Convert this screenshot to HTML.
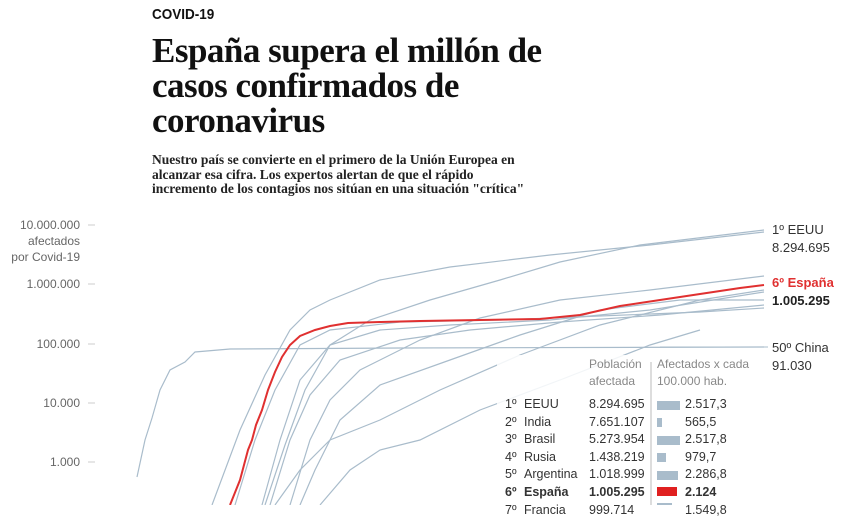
<!DOCTYPE html>
<html><head><meta charset="utf-8"><style>
body{margin:0;width:868px;height:505px;overflow:hidden;background:#fff;position:relative;font-family:"Liberation Sans",sans-serif}
.a{position:absolute;white-space:nowrap}
.ser{font-family:"Liberation Serif",serif}
.t{font-size:35px;font-weight:bold;color:#111;letter-spacing:-0.5px;line-height:35px}
.s{font-size:13.5px;font-weight:bold;color:#222;line-height:14.5px}
.ax{font-size:12px;color:#666;text-align:right;width:80px;left:0}
.tb{font-size:12.5px;color:#333}
</style></head><body>
<div class="a" style="left:152px;top:6px;font-size:15px;font-weight:bold;color:#111;transform:scaleX(0.9);transform-origin:left">COVID-19</div>
<div class="a ser t" style="left:152px;top:33px">España supera el millón de<br>casos confirmados de<br>coronavirus</div>
<div class="a ser s" style="left:152px;top:153px">Nuestro país se convierte en el primero de la Unión Europea en<br>alcanzar esa cifra. Los expertos alertan de que el rápido<br>incremento de los contagios nos sitúan en una situación "crítica"</div>
<svg class="a" style="left:0;top:0" width="868" height="505">
<g stroke="#ccc" stroke-width="1"><line x1="88" x2="95" y1="225" y2="225"/><line x1="88" x2="95" y1="284" y2="284"/><line x1="88" x2="95" y1="344" y2="344"/><line x1="88" x2="95" y1="403" y2="403"/><line x1="88" x2="95" y1="462" y2="462"/></g>
<g fill="none" stroke="#a9bccb" stroke-width="1.2">
<polyline points="137,477 145,440 152,418 160,390 170,370 185,362 195,352 230,349 400,348 764,347"/>
<polyline points="212,505 240,430 265,375 290,330 310,310 330,300 380,280 450,267 550,255 650,245 764,232"/>
<polyline points="262,505 280,440 300,380 330,345 370,320 430,300 500,280 560,262 640,245 764,230"/>
<polyline points="290,505 310,440 330,400 360,370 420,340 480,318 560,300 650,290 764,276"/>
<polyline points="300,505 315,470 340,420 380,385 450,360 520,335 600,310 680,300 764,300"/>
<polyline points="235,505 255,440 275,390 300,345 330,330 400,322 500,320 600,316 700,312 764,308"/>
<polyline points="270,505 290,440 310,395 340,360 400,340 470,330 560,322 660,315 764,305"/>
<polyline points="265,505 285,445 305,390 330,345 380,330 450,325 550,320 650,310 764,292"/>
<polyline points="275,505 300,470 330,440 380,420 440,390 520,355 600,325 700,300 764,290"/>
<polyline points="320,505 350,470 380,450 420,440 480,410 560,380 650,345 700,330"/>
</g>
<polyline fill="none" stroke="#e03030" stroke-width="2" points="230,505 240,480 248,450 252,440 256,425 262,410 268,390 275,372 282,357 290,345 300,336 315,330 330,326 348,323 380,322 420,321 480,320 540,319 580,315 620,306 660,300 700,294 740,288 764,285"/>
<line x1="660" x2="768" y1="347" y2="347" stroke="#a9bccb"/>
<rect x="497" y="355" width="250" height="150" fill="#fff" opacity="0.85"/>
<line x1="651" x2="651" y1="362" y2="505" stroke="#bbb"/>
<g>
<rect x="657" y="401" width="23" height="9" fill="#a9bccb"/>
<rect x="657" y="418" width="5" height="9" fill="#a9bccb"/>
<rect x="657" y="436" width="23" height="9" fill="#a9bccb"/>
<rect x="657" y="453" width="9" height="9" fill="#a9bccb"/>
<rect x="657" y="471" width="21" height="9" fill="#a9bccb"/>
<rect x="657" y="487" width="20" height="9" fill="#e02020"/>
<rect x="657" y="503" width="15" height="9" fill="#a9bccb"/>
</g>
</svg>
<div class="a ax" style="top:217px;line-height:16px">10.000.000<br>afectados<br>por Covid-19</div>
<div class="a ax" style="top:277px">1.000.000</div>
<div class="a ax" style="top:337px">100.000</div>
<div class="a ax" style="top:396px">10.000</div>
<div class="a ax" style="top:455px">1.000</div>
<div class="a" style="left:772px;top:221px;font-size:13px;color:#333;line-height:18px">1º EEUU<br>8.294.695</div>
<div class="a" style="left:772px;top:274px;font-size:13px;font-weight:bold;line-height:18px"><span style="color:#e03030">6º España</span><br><span style="color:#222">1.005.295</span></div>
<div class="a" style="left:772px;top:339px;font-size:13px;color:#333;line-height:18px">50º China<br>91.030</div>
<div class="a" style="left:589px;top:356px;font-size:12px;color:#888;line-height:17px">Población<br>afectada</div>
<div class="a" style="left:657px;top:356px;font-size:12px;color:#888;line-height:17px">Afectados x cada<br>100.000 hab.</div>
<div class="a tb" style="left:505px;top:396px;line-height:17.6px">1º<br>2º<br>3º<br>4º<br>5º<br><b>6º</b><br>7º</div>
<div class="a tb" style="left:524px;top:396px;line-height:17.6px">EEUU<br>India<br>Brasil<br>Rusia<br>Argentina<br><b>España</b><br>Francia</div>
<div class="a tb" style="left:589px;top:396px;line-height:17.6px">8.294.695<br>7.651.107<br>5.273.954<br>1.438.219<br>1.018.999<br><b>1.005.295</b><br>999.714</div>
<div class="a tb" style="left:685px;top:396px;line-height:17.6px">2.517,3<br>565,5<br>2.517,8<br>979,7<br>2.286,8<br><b>2.124</b><br>1.549,8</div>
</body></html>
